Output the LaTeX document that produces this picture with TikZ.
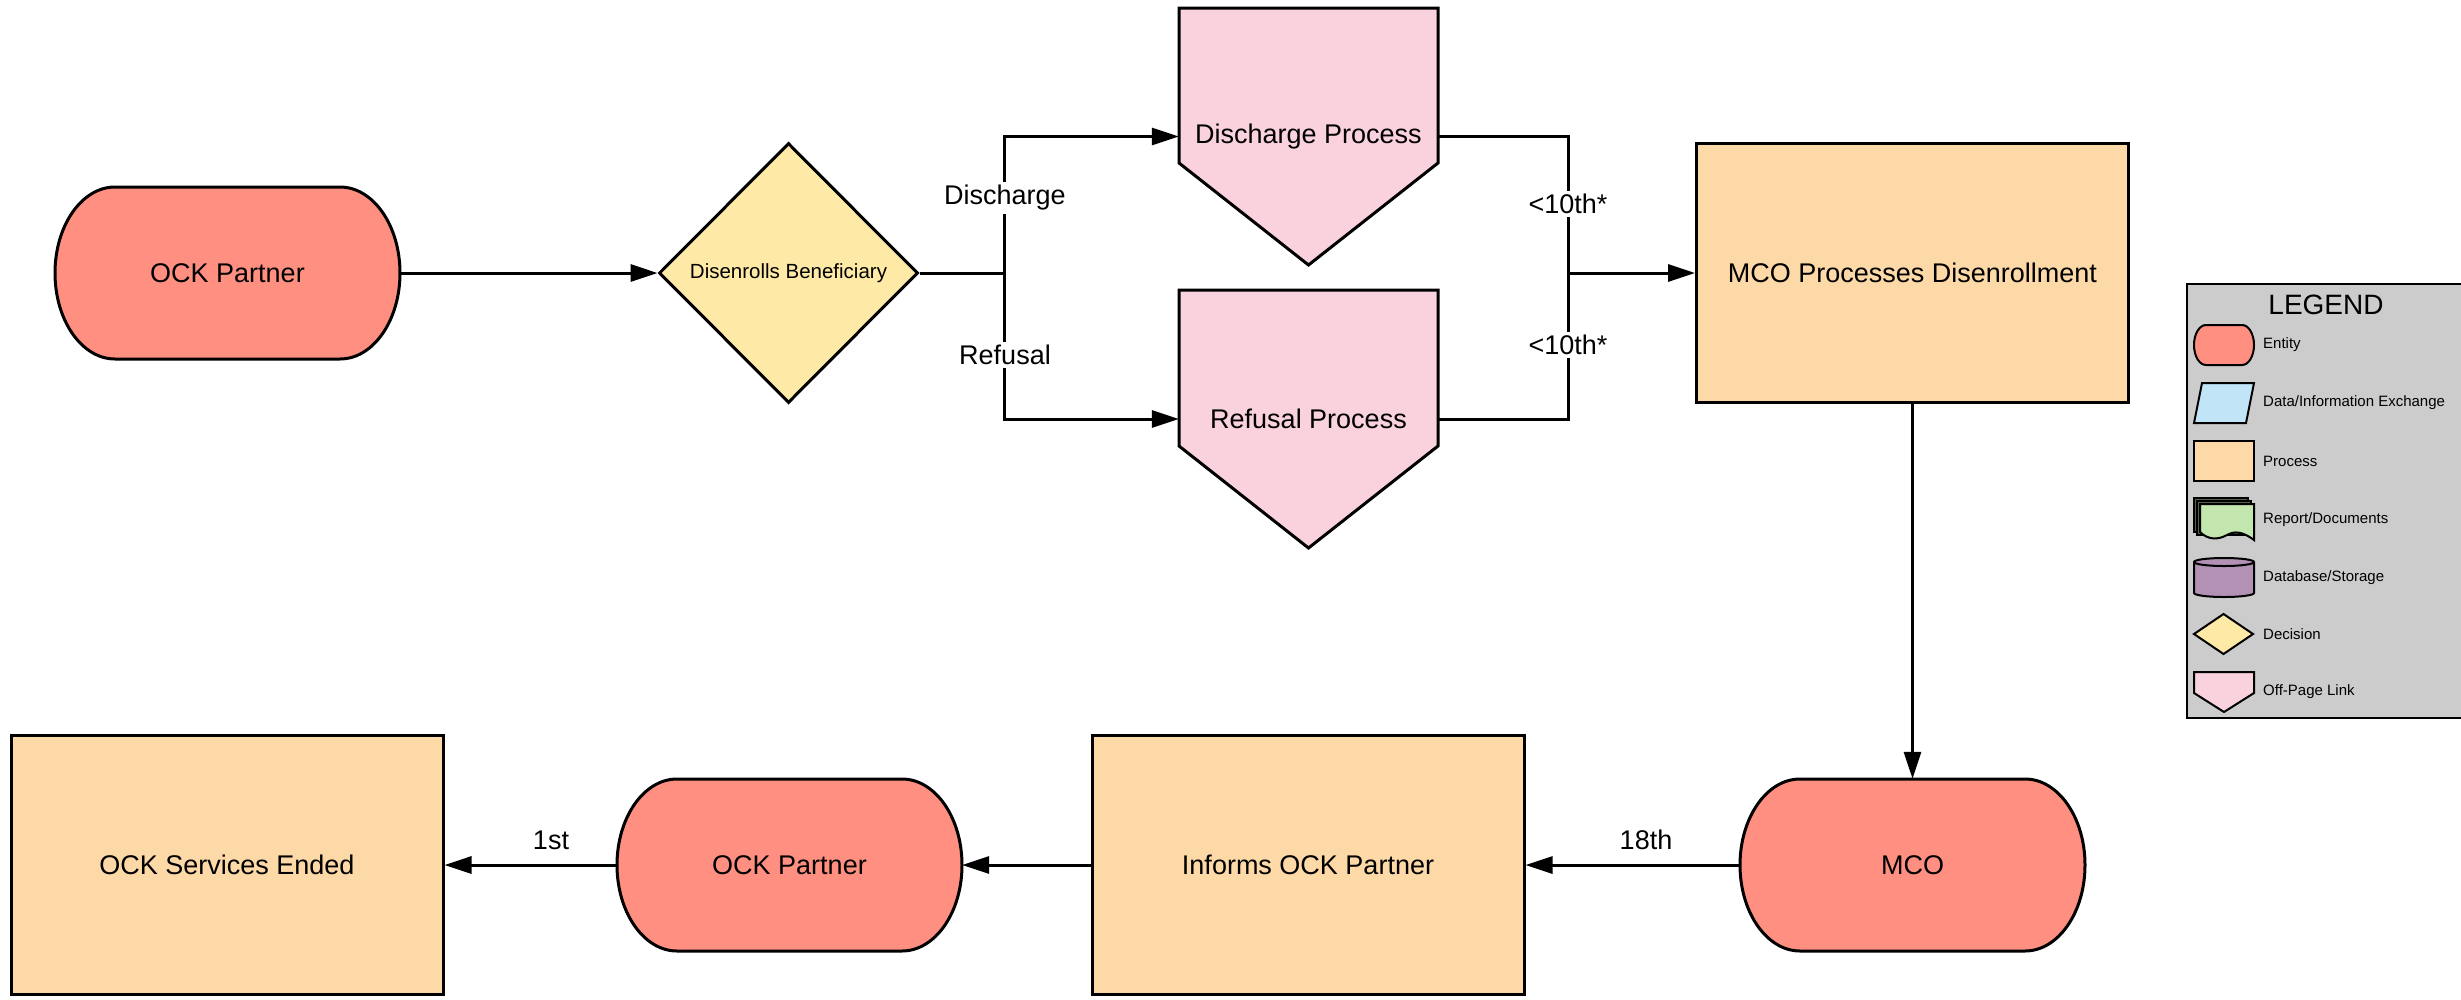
\documentclass[tikz,border=0pt]{standalone}
\usepackage{fontspec}
\setmainfont{Liberation Sans}
\usetikzlibrary{arrows.meta,shapes.geometric}

\definecolor{entityfill}{HTML}{FF8F80}
\definecolor{processfill}{HTML}{FED9A8}
\definecolor{decisionfill}{HTML}{FFE9A6}
\definecolor{linkfill}{HTML}{F9D2DE}
\definecolor{legendfill}{HTML}{CCCCCC}
\definecolor{datafill}{HTML}{C1E4F7}
\definecolor{docfill}{HTML}{C3E6AE}
\definecolor{docback}{HTML}{56624A}
\definecolor{dbfill}{HTML}{B391B5}

% terminator-style entity: flat top and bottom, elliptical ends
\newcommand\entityat[4]{% name, centre x, centre y, text
  \path[outline, fill=entityfill]
    (#2-112.5,#3-86) -- (#2+112.5,#3-86)
    arc[start angle=90, end angle=-90, x radius=60pt, y radius=86pt]
    -- (#2-112.5,#3+86)
    arc[start angle=270, end angle=90, x radius=60pt, y radius=86pt] -- cycle;
  \node[big, minimum width=345pt, minimum height=172pt, inner sep=0pt] (#1) at (#2,#3) {#4};
}

\begin{document}
\begin{tikzpicture}[x=1pt,y=-1pt,
  outline/.style={draw=black, line width=3pt, line join=miter},
  big/.style={font=\fontsize{27}{32}\selectfont},
  small/.style={font=\fontsize{15}{18}\selectfont},
  box/.style={outline, fill=processfill, minimum width=432pt, minimum height=259pt, inner sep=0pt, big},
  flow/.style={line width=3pt, -{Triangle[length=27pt,width=17pt]}},
  wire/.style={line width=3pt},
  tag/.style={fill=white, inner sep=3pt, big},
  icon/.style={draw=black, line width=2pt, line join=miter},
  item/.style={small, anchor=west, inner sep=0pt},
]
\useasboundingbox (0,0) rectangle (2461,999);

% ---------- top row ----------
\entityat{ock1}{227.5}{273}{OCK Partner}

\node[outline, diamond, aspect=1, fill=decisionfill, minimum width=259pt,
      minimum height=260pt, inner sep=0pt] (dec) at (788.5,273) {};
\node[font=\fontsize{20.5}{24}\selectfont, inner sep=0pt] (dectext) at (dec.center) {Disenrolls Beneficiary};

% off-page links
\path[outline, fill=linkfill] (1179,8) -- (1438,8) -- (1438,163) -- (1308.5,265) -- (1179,163) -- cycle;
\node[big, minimum width=259pt, minimum height=257pt, inner sep=0pt] (dis) at (1308.5,136.5) {Discharge Process};
\path[outline, fill=linkfill] (1179,290) -- (1438,290) -- (1438,446) -- (1308.5,548) -- (1179,446) -- cycle;
\node[big, minimum width=259pt, minimum height=258pt, inner sep=0pt] (ref) at (1308.5,419) {Refusal Process};

\node[box] (mcop) at (1912.5,273) {MCO Processes Disenrollment};

\coordinate (j1) at (1004.5,273);
\coordinate (j2) at (1568,273);

\draw[flow] (ock1.east) -- (dec.west);
\draw[wire] (dec.east) -- (j1);
\draw[flow] (j1) |- (dis.west);
\draw[flow] (j1) |- (ref.west);
\draw[wire] (dis.east) -| (j2);
\draw[wire] (ref.east) -| (j2);
\draw[flow] (j2) -- (mcop.west);

\node[tag] (ldis) at (1005,198) {Discharge};
\node[tag] (lref) at (1005,355) {Refusal};
\node[tag] (lten1) at (1568,204) {<10th*};
\node[tag] (lten2) at (1568,345) {<10th*};

% ---------- bottom row ----------
\entityat{mco}{1912.5}{865}{MCO}
\node[box] (inf) at (1308,865) {Informs OCK Partner};
\entityat{ock2}{789.5}{865}{OCK Partner}
\node[box] (end) at (227,865) {OCK Services Ended};

\draw[flow] (mcop.south) -- (mco.north);
\draw[flow] (mco.west) -- (inf.east);
\draw[flow] (inf.west) -- (ock2.east);
\draw[flow] (ock2.west) -- (end.east);

\node[big, inner sep=0pt] (l18) at (1646,840) {18th};
\node[big, inner sep=0pt] (l1) at (551,840) {1st};

% ---------- legend ----------
\path[draw=black, line width=2pt, fill=legendfill] (2187,284) rectangle (2475,718);
\node[font=\fontsize{28}{32}\selectfont, inner sep=0pt] (legtitle) at (2326,305) {LEGEND};

% entity
\path[icon, fill=entityfill] (2206,325) -- (2242,325)
  arc[start angle=90, end angle=-90, x radius=12pt, y radius=20pt] -- (2206,365)
  arc[start angle=270, end angle=90, x radius=12pt, y radius=20pt] -- cycle;
\node[item] (kentity) at (2263,345) {Entity};
% data exchange
\path[icon, fill=datafill] (2202,383) -- (2254,383) -- (2246,423) -- (2194,423) -- cycle;
\node[item] (kdata) at (2263,403) {Data/Information Exchange};
% process
\path[icon, fill=processfill] (2194,441) rectangle (2254,481);
\node[item] (kproc) at (2263,461) {Process};
% report / documents
\path[icon, fill=docback] (2194,498) rectangle (2248,532);
\path[icon, fill=docback] (2197,501) rectangle (2251,535);
\path[icon, fill=docfill] (2200,504) -- (2254,504) -- (2254,540)
  .. controls (2242,531) and (2234,531) .. (2227,535)
  .. controls (2218,540) and (2208,540) .. (2200,532) -- cycle;
\node[item] (kdoc) at (2263,520) {Report/Documents};
% database
\path[icon, fill=dbfill] (2194,562) -- (2194,593)
  arc[start angle=180, end angle=360, x radius=30pt, y radius=4pt] -- (2254,562)
  arc[start angle=0, end angle=180, x radius=30pt, y radius=4pt] -- cycle;
\draw[icon] (2194,562) arc[start angle=180, end angle=360, x radius=30pt, y radius=4pt];
\node[item] (kdb) at (2263,578) {Database/Storage};
% decision
\path[icon, fill=decisionfill] (2223.5,614) -- (2253,634) -- (2223.5,654) -- (2194,634) -- cycle;
\node[item] (kdec) at (2263,634) {Decision};
% off-page link
\path[icon, fill=linkfill] (2194,672) -- (2254,672) -- (2254,693) -- (2224,712) -- (2194,693) -- cycle;
\node[item] (klink) at (2263,692) {Off-Page Link};
\end{tikzpicture}
\end{document}
